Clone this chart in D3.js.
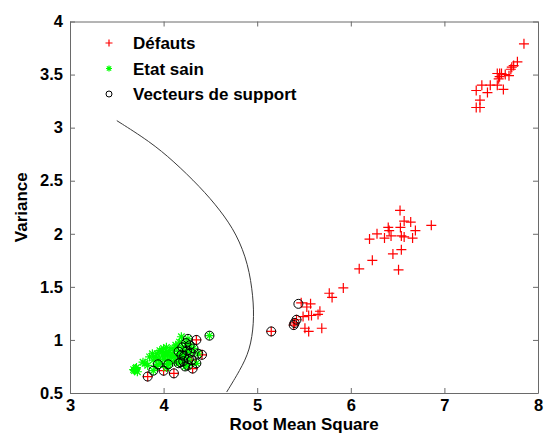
<!DOCTYPE html>
<html>
<head>
<meta charset="utf-8">
<script src="https://cdn.jsdelivr.net/npm/d3@7"></script>
<style>
  body { margin: 0; background: #fff; }
  svg { display: block; }
  text { font-family: "Liberation Sans", Arial, sans-serif; font-weight: bold; fill: #000; }
</style>
</head>
<body>
<svg></svg>
<script>
let width = 547
let height = 435

// Défauts (red +)
let defautsX = [7.85, 7.78, 7.74, 7.72, 7.71, 7.59, 7.61, 7.565, 7.65, 7.69, 7.59, 7.58, 7.565, 7.63, 7.49, 7.40, 7.34, 7.46, 7.38, 7.34, 7.38,
  6.526, 6.57, 6.64, 6.40, 6.53, 6.69, 6.86, 6.28, 6.41, 6.43, 6.36, 6.54, 6.57, 6.66, 6.20, 6.45, 6.54, 6.23, 6.09, 6.51,
  5.92, 5.77, 5.80, 5.47, 5.57, 5.53, 5.67, 5.65, 5.58, 5.49, 5.55, 5.42, 5.40, 5.39, 5.51, 5.55, 5.69, 5.15,
  3.83, 4.00, 4.11, 4.18, 4.31, 4.30, 4.41, 4.35]
let defautsY = [3.79, 3.62, 3.585, 3.57, 3.55, 3.51, 3.51, 3.51, 3.50, 3.49, 3.48, 3.46, 3.40, 3.36, 3.40, 3.40, 3.35, 3.33, 3.26, 3.19, 3.19,
  2.22, 2.12, 2.11, 2.06, 2.06, 2.03, 2.08, 2.00, 2.03, 1.98, 1.96, 1.98, 1.97, 1.96, 1.95, 1.81, 1.85, 1.75, 1.67, 1.66,
  1.49, 1.44, 1.40, 1.35, 1.34, 1.31, 1.27, 1.24, 1.23, 1.22, 1.23, 1.19, 1.16, 1.14, 1.11, 1.08, 1.11, 1.08,
  0.655, 0.71, 0.685, 0.79, 0.73, 0.81, 0.86, 1.00]

// Etat sain (green *)
let sainX = [3.69, 3.70, 3.68, 3.72, 3.71, 3.78, 3.80, 3.83, 3.85, 3.89, 3.88, 3.91, 3.93, 3.95, 3.96, 3.98, 3.99, 4.00, 4.01, 4.02,
  4.03, 4.04, 4.05, 4.06, 4.07, 4.08, 4.09, 4.10, 4.11, 4.13, 4.14, 4.15, 4.17, 4.19, 4.12, 3.97, 3.92, 4.03, 4.18, 4.21,
  3.89, 3.94, 4.05, 4.16, 4.16, 4.20, 4.26, 4.37, 4.35, 4.49, 4.22, 4.25, 4.27, 4.23, 4.28, 4.24, 4.29, 4.21, 4.26, 4.19, 4.32]
let sainY = [0.71, 0.73, 0.72, 0.70, 0.74, 0.79, 0.78, 0.76, 0.84, 0.81, 0.87, 0.84, 0.87, 0.82, 0.90, 0.89, 0.85, 0.92, 0.82, 0.88,
  0.93, 0.86, 0.80, 0.90, 0.78, 0.84, 0.87, 0.92, 0.84, 0.95, 0.93, 0.85, 0.98, 1.03, 0.80, 0.78, 0.75, 0.74, 0.82, 0.88,
  0.71, 0.77, 0.77, 0.78, 0.89, 0.93, 1.01, 0.87, 0.78, 1.04, 0.85, 0.90, 0.82, 0.75, 0.95, 0.97, 0.88, 0.80, 0.76, 0.86, 0.92]

// Vecteurs de support (black o)
let supportX = [3.83, 4.00, 4.11, 4.18, 4.31, 4.30, 4.41, 4.35,
  3.89, 3.94, 4.05, 4.16, 4.16, 4.20, 4.26, 4.37, 4.35, 4.49, 4.22, 4.25, 4.27, 4.23, 4.28, 4.24, 4.29, 4.21, 4.26, 4.19, 4.32,
  5.15, 5.44, 5.42, 5.40, 5.39]
let supportY = [0.655, 0.71, 0.685, 0.79, 0.73, 0.81, 0.86, 1.00,
  0.71, 0.77, 0.77, 0.78, 0.89, 0.93, 1.01, 0.87, 0.78, 1.04, 0.85, 0.90, 0.82, 0.75, 0.95, 0.97, 0.88, 0.80, 0.76, 0.86, 0.92,
  1.08, 1.34, 1.19, 1.16, 1.14]

// decision boundary
let frontiereX = [3.50, 3.855, 4.104, 4.389, 4.603, 4.781, 4.905, 4.958, 4.966, 4.923, 4.816, 4.674]
let frontiereY = [3.066, 2.868, 2.686, 2.443, 2.225, 1.997, 1.714, 1.406, 1.158, 0.903, 0.714, 0.509]

let xTicks = [3, 4, 5, 6, 7, 8]
let yTicks = [0.5, 1, 1.5, 2, 2.5, 3, 3.5, 4]

let mLeft = 70, mRight = 538, mTop = 21.5, mBottom = 393

let svg = d3.select('svg')
    .attr('width', width)
    .attr('height', height)

let xScale = d3.scaleLinear().domain([3, 8]).range([mLeft, mRight])
let yScale = d3.scaleLinear().domain([0.5, 4]).range([mBottom, mTop])

let plot = svg.append('g')

// markers
let drawPlus = (g, cx, cy, s) => {
    g.append('path')
        .attr('d', `M${cx - s},${cy}H${cx + s}M${cx},${cy - s}V${cy + s}`)
        .attr('stroke', '#ff0000')
        .attr('stroke-width', 1.2)
        .attr('fill', 'none')
}
let drawStar = (g, cx, cy, s) => {
    let d = s * 0.72
    g.append('path')
        .attr('d', `M${cx - s},${cy}H${cx + s}M${cx},${cy - s}V${cy + s}M${cx - d},${cy - d}L${cx + d},${cy + d}M${cx - d},${cy + d}L${cx + d},${cy - d}`)
        .attr('stroke', '#00ff00')
        .attr('stroke-width', 1.2)
        .attr('fill', 'none')
}
let drawCircle = (g, cx, cy, r) => {
    g.append('circle')
        .attr('cx', cx).attr('cy', cy).attr('r', r)
        .attr('stroke', '#000')
        .attr('stroke-width', 1)
        .attr('fill', 'none')
}

defautsX.forEach((x, i) => drawPlus(plot, xScale(x), yScale(defautsY[i]), 5))
sainX.forEach((x, i) => drawStar(plot, xScale(x), yScale(sainY[i]), 4.5))
supportX.forEach((x, i) => drawCircle(plot, xScale(x), yScale(supportY[i]), 4.5))

// boundary
let line = d3.line()
    .x((d) => xScale(d[0]))
    .y((d) => yScale(d[1]))
    .curve(d3.curveBasis)

plot.append('path')
    .datum(frontiereX.map((x, i) => [x, frontiereY[i]]))
    .attr('d', line)
    .attr('fill', 'none')
    .attr('stroke', '#3a3a3a')
    .attr('stroke-width', 1)

// axes
let styleAxis = (g) => {
    g.selectAll('.domain').attr('stroke', '#6a6a6a')
    g.selectAll('.tick line').attr('stroke', '#6a6a6a')
    g.selectAll('.tick text')
        .style('font-family', '"Liberation Sans", Arial, sans-serif')
        .style('font-weight', 'bold')
        .style('font-size', '16.5px')
        .attr('fill', '#000')
}

svg.append('g')
    .attr('transform', `translate(0, ${mBottom})`)
    .call(d3.axisBottom(xScale).tickValues(xTicks).tickFormat(d3.format('d')).tickSizeInner(-5).tickSizeOuter(0).tickPadding(6.5))
    .call(styleAxis)

svg.append('g')
    .attr('transform', `translate(0, ${mTop})`)
    .call(d3.axisTop(xScale).tickValues(xTicks).tickFormat('').tickSizeInner(-5).tickSizeOuter(0))
    .call(styleAxis)

svg.append('g')
    .attr('transform', `translate(${mLeft}, 0)`)
    .call(d3.axisLeft(yScale).tickValues(yTicks).tickFormat((d) => d3.format('')(d)).tickSizeInner(-5).tickSizeOuter(0).tickPadding(7))
    .call(styleAxis)

svg.append('g')
    .attr('transform', `translate(${mRight}, 0)`)
    .call(d3.axisRight(yScale).tickValues(yTicks).tickFormat('').tickSizeInner(-5).tickSizeOuter(0))
    .call(styleAxis)

// axis titles
svg.append('text')
    .attr('x', (mLeft + mRight) / 2)
    .attr('y', 430)
    .attr('text-anchor', 'middle')
    .style('font-size', '17px')
    .text('Root Mean Square')

svg.append('text')
    .attr('transform', `translate(27, ${(mTop + mBottom) / 2}) rotate(-90)`)
    .attr('text-anchor', 'middle')
    .style('font-size', '17px')
    .text('Variance')

// legend
let legend = svg.append('g')
let legendItems = ['Défauts', 'Etat sain', 'Vecteurs de support']
legendItems.forEach((label, i) => {
    let cy = 43 + i * 25.5
    if (i === 0) drawPlus(legend, 109, cy, 3.5)
    if (i === 1) drawStar(legend, 109, cy, 3)
    if (i === 2) drawCircle(legend, 109, cy, 3)
    legend.append('text')
        .attr('x', 133)
        .attr('y', cy + 6)
        .style('font-size', '17px')
        .text(label)
})
</script>
</body>
</html>
